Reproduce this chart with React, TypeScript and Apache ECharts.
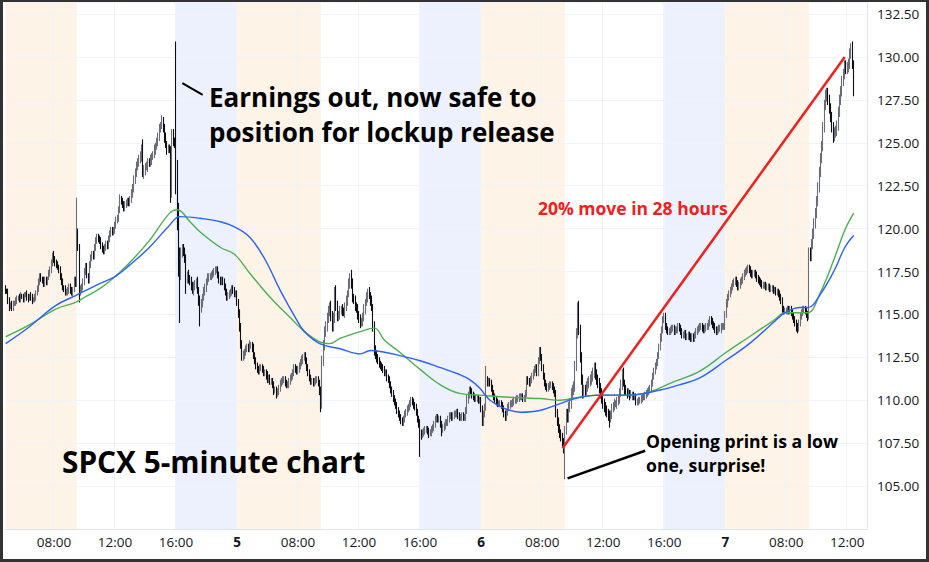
import React, { useEffect, useRef } from 'react';
import * as echarts from 'echarts';

// ---------- time axis (5-minute bars, 04:00-20:00 sessions) ----------
const DAYS = ['4', '5', '6', '7'];
const FIRST_BAR = '4 04:50';
const BAR_COUNT_ON_AXIS = 678;

// ---------- candle data (5-minute bars) ----------
const OPEN_FIRST = 116.5;

const closeDay4 = [
  116.4, 116.3, 115.8, 115.4, 115.6, 115.4, 115.6, 115.7, 115.8, 115.9,
  116.0, 115.9, 116.1, 116.0, 115.9, 116.1, 116.2, 116.0, 115.9, 116.1,
  116.0, 115.8, 115.9, 116.0, 116.2, 116.5, 116.9, 117.2, 117.1, 117.0,
  116.8, 117.0, 116.9, 117.1, 117.4, 117.6, 118.0, 118.4, 118.2, 118.0,
  117.9, 117.8, 117.6, 117.2, 116.9, 116.6, 116.5, 116.3, 116.3, 116.4,
  116.6, 116.4, 116.2, 116.5, 117.0, 116.8, 119.8, 118.9, 116.3, 116.5,
  116.6, 116.9, 117.5, 117.8, 117.3, 117.0, 117.9, 118.3, 118.5, 118.4,
  118.9, 119.3, 119.5, 119.4, 119.3, 119.0, 118.8, 118.7, 118.9, 119.1,
  119.0, 119.4, 119.7, 119.9, 119.8, 119.9, 120.2, 120.5, 120.6, 121.1,
  121.7, 121.6, 121.4, 121.2, 121.4, 121.5, 121.6, 121.5, 121.7, 122.0,
  122.4, 122.8, 123.3, 123.6, 123.9, 124.0, 124.2, 124.6, 123.2, 123.4,
  123.6, 123.6, 123.9, 123.8, 124.0, 124.2, 124.3, 124.6, 124.8, 125.0,
  125.4, 125.8, 126.0, 126.2, 125.9, 125.3, 124.9, 124.6, 124.7, 124.6,
  122.0, 125.6, 125.0, 124.9, 123.6, 120.3, 118.0, 117.5, 118.6, 118.8,
  118.7, 118.2, 117.0, 117.3, 117.1, 116.9, 116.7, 116.4, 116.6, 116.8,
  116.9, 116.4, 115.8, 115.3, 115.7, 116.0, 116.3, 116.6, 116.9, 117.1,
  117.2, 117.2, 117.3, 117.4, 117.5, 117.6, 117.6, 117.3, 117.0, 116.9,
  117.0, 116.9, 116.6, 116.3, 116.0, 116.1, 116.2, 116.3, 116.5, 116.4,
  116.2, 116.2,
];
const upWickDay4 = [
  2, 1, 2, 2, 1, 2, 2, 1, 2, 2,
  1, 2, 2, 1, 2, 2, 1, 2, 2, 1,
  2, 2, 1, 2, 2, 2, 2, 2, 2, 1,
  2, 2, 2, 1, 2, 2, 2, 2, 3, 2,
  2, 2, 1, 2, 2, 2, 1, 2, 2, 2,
  2, 2, 2, 1, 2, 2, 20, 2, 2, 2,
  2, 2, 2, 2, 2, 1, 2, 2, 2, 2,
  2, 2, 2, 2, 2, 2, 2, 2, 2, 2,
  2, 2, 2, 2, 2, 2, 2, 2, 2, 2,
  3, 2, 2, 2, 2, 2, 2, 2, 2, 3,
  2, 3, 2, 3, 2, 3, 3, 3, 6, 3,
  2, 3, 2, 2, 3, 2, 2, 3, 2, 3,
  2, 3, 2, 4, 3, 2, 3, 2, 2, 2,
  2, 2, 2, 3, 60, 4, 12, 9, 3, 3,
  3, 2, 3, 2, 3, 2, 3, 2, 3, 2,
  2, 3, 2, 3, 2, 2, 3, 2, 2, 3,
  2, 2, 2, 2, 2, 2, 2, 2, 2, 2,
  2, 2, 2, 2, 2, 2, 2, 2, 2, 2,
  2, 2,
];
const lowWickDay4 = [
  2, 1, 2, 2, 1, 2, 2, 1, 2, 2,
  1, 2, 2, 1, 2, 2, 1, 2, 2, 1,
  2, 2, 1, 2, 2, 1, 2, 2, 2, 2,
  2, 2, 2, 2, 1, 2, 2, 2, 2, 2,
  2, 2, 2, 2, 2, 2, 2, 2, 2, 2,
  2, 2, 1, 2, 2, 2, 2, 2, 6, 2,
  2, 2, 2, 2, 2, 2, 2, 2, 2, 2,
  2, 2, 2, 2, 2, 2, 2, 2, 2, 2,
  2, 2, 2, 2, 2, 2, 2, 2, 2, 2,
  2, 2, 2, 2, 2, 2, 2, 2, 2, 2,
  2, 3, 2, 3, 2, 3, 2, 3, 2, 3,
  3, 2, 3, 2, 2, 3, 2, 2, 3, 2,
  2, 3, 2, 2, 3, 3, 2, 3, 2, 2,
  5, 2, 2, 2, 16, 4, 8, 30, 5, 3,
  3, 2, 8, 2, 3, 2, 3, 2, 3, 2,
  3, 2, 3, 10, 2, 3, 2, 2, 3, 2,
  2, 2, 2, 2, 2, 2, 2, 2, 2, 2,
  2, 2, 2, 2, 2, 2, 2, 2, 2, 2,
  2, 2,
];

const closeDay5 = [
  115.7, 115.0, 114.3, 113.3, 112.5, 112.6, 112.8, 113.0, 113.1, 113.0,
  113.2, 113.2, 113.0, 112.6, 112.3, 112.0, 111.8, 111.7, 111.9, 111.9,
  111.8, 111.6, 111.6, 111.4, 111.2, 111.3, 111.1, 111.1, 110.9, 110.6,
  110.6, 110.4, 110.5, 110.7, 111.0, 111.1, 111.2, 111.2, 111.0, 110.9,
  110.9, 111.1, 111.3, 111.4, 111.6, 111.9, 111.8, 111.7, 111.8, 112.0,
  112.2, 112.3, 112.5, 112.6, 112.3, 111.9, 111.6, 111.3, 111.1, 111.1,
  111.0, 111.1, 111.2, 111.2, 111.0, 110.6, 109.8, 112.3, 113.2, 114.0,
  114.3, 114.8, 115.2, 115.5, 114.9, 114.3, 114.8, 116.4, 115.5, 114.9,
  115.0, 115.2, 115.3, 115.2, 115.1, 115.4, 115.8, 116.2, 116.8, 117.3,
  116.8, 116.0, 115.8, 115.5, 115.3, 115.0, 114.7, 114.5, 114.6, 114.8,
  115.3, 115.7, 116.0, 116.3, 116.1, 115.8, 115.4, 114.3, 112.9, 112.7,
  112.4, 112.3, 112.1, 112.0, 111.9, 111.8, 111.6, 111.6, 111.3, 111.2,
  110.9, 110.6, 110.4, 110.1, 109.9, 109.7, 109.4, 109.2, 109.0, 108.8,
  108.7, 108.9, 109.2, 109.3, 109.5, 109.6, 109.8, 110.0, 109.9, 109.7,
  109.6, 109.3, 108.9, 108.6, 108.1, 108.0, 108.1, 108.2, 108.3, 108.3,
  108.2, 108.1, 108.1, 108.3, 108.4, 108.6, 108.9, 109.0, 108.9, 108.9,
  108.6, 108.3, 108.4, 108.5, 108.7, 108.7, 108.9, 109.1, 109.1, 109.0,
  109.1, 109.2, 109.2, 109.3, 109.1, 109.0, 109.0, 109.1, 109.0, 109.0,
  109.4, 110.0, 110.3, 110.6, 110.5, 110.3, 110.2, 110.1, 110.1, 110.1,
  110.0, 110.0,
];
const upWickDay5 = [
  2, 2, 3, 2, 2, 3, 2, 2, 2, 2,
  3, 2, 2, 3, 2, 2, 2, 2, 2, 2,
  2, 2, 2, 2, 3, 2, 2, 2, 2, 2,
  2, 2, 2, 2, 2, 2, 2, 2, 2, 2,
  2, 2, 2, 2, 2, 2, 2, 2, 2, 2,
  2, 3, 2, 2, 2, 2, 2, 2, 2, 2,
  2, 2, 2, 2, 2, 2, 2, 3, 3, 3,
  3, 3, 3, 2, 3, 3, 3, 2, 3, 3,
  2, 3, 2, 3, 2, 3, 3, 2, 3, 1,
  3, 3, 2, 3, 2, 3, 2, 3, 2, 3,
  3, 2, 3, 2, 3, 2, 3, 2, 3, 3,
  2, 3, 2, 2, 2, 2, 2, 2, 2, 2,
  2, 2, 2, 2, 2, 2, 2, 2, 2, 2,
  2, 2, 2, 2, 2, 2, 2, 2, 2, 2,
  2, 2, 2, 2, 3, 2, 2, 2, 2, 2,
  2, 2, 2, 2, 2, 2, 2, 2, 2, 2,
  2, 2, 2, 2, 2, 2, 2, 2, 2, 2,
  2, 2, 2, 2, 2, 2, 2, 2, 2, 2,
  2, 3, 2, 2, 2, 2, 2, 2, 2, 2,
  2, 2,
];
const lowWickDay5 = [
  2, 2, 3, 3, 2, 2, 2, 2, 2, 2,
  2, 2, 2, 2, 2, 2, 2, 2, 2, 2,
  2, 2, 2, 2, 2, 2, 2, 2, 2, 3,
  2, 3, 2, 2, 2, 2, 2, 2, 2, 2,
  2, 2, 2, 2, 2, 2, 2, 2, 2, 2,
  2, 2, 2, 2, 2, 2, 2, 2, 2, 2,
  2, 2, 2, 2, 2, 3, 5, 3, 3, 3,
  3, 3, 3, 3, 3, 3, 3, 3, 3, 3,
  3, 3, 2, 3, 2, 3, 2, 3, 2, 3,
  3, 3, 2, 3, 2, 3, 2, 3, 2, 3,
  2, 3, 2, 3, 2, 3, 2, 3, 3, 3,
  2, 2, 2, 2, 2, 2, 2, 2, 2, 2,
  2, 2, 2, 2, 2, 2, 2, 2, 2, 2,
  2, 2, 2, 2, 2, 2, 2, 2, 2, 2,
  2, 2, 2, 2, 14, 3, 2, 2, 2, 2,
  2, 3, 2, 2, 2, 2, 2, 2, 2, 2,
  2, 4, 2, 2, 2, 2, 2, 2, 2, 2,
  2, 2, 2, 2, 2, 2, 2, 2, 2, 2,
  2, 2, 2, 2, 2, 2, 2, 2, 2, 2,
  2, 2,
];

const closeDay6 = [
  109.5, 108.7, 109.2, 109.6, 111.2, 111.0, 111.1, 111.0, 110.7, 110.4,
  110.2, 110.0, 109.9, 109.8, 109.8, 109.8, 109.7, 109.5, 109.2, 109.0,
  109.3, 109.6, 109.7, 109.8, 109.8, 109.9, 110.0, 110.0, 110.1, 110.1,
  110.2, 110.2, 110.2, 110.1, 110.1, 110.4, 111.2, 111.1, 111.0, 111.2,
  111.4, 111.6, 111.8, 111.9, 111.6, 112.3, 112.9, 112.5, 111.9, 111.4,
  111.0, 110.8, 110.7, 110.8, 110.9, 110.9, 110.8, 110.6, 110.4, 109.3,
  108.8, 108.4, 108.1, 107.9, 107.6, 107.2, 108.3, 109.2, 109.0, 109.6,
  109.8, 110.4, 110.6, 110.8, 112.0, 113.9, 115.5, 114.1, 112.5, 111.2,
  110.4, 110.6, 110.5, 110.8, 111.0, 111.1, 111.2, 111.4, 111.6, 111.9,
  111.5, 111.2, 111.0, 110.7, 110.4, 110.1, 109.8, 109.6, 109.4, 109.3,
  109.1, 109.0, 109.2, 109.5, 109.7, 109.8, 109.8, 109.9, 110.1, 110.4,
  110.9, 111.6, 111.0, 110.6, 110.5, 110.4, 110.4, 110.3, 110.3, 110.3,
  110.2, 110.2, 109.9, 109.9, 110.0, 110.0, 110.1, 110.2, 110.2, 110.3,
  110.4, 110.5, 110.6, 110.7, 111.0, 111.4, 111.7, 112.0, 112.2, 112.6,
  113.1, 113.6, 114.1, 114.7, 114.9, 114.3, 114.1, 114.0, 114.0, 114.1,
  114.2, 114.2, 114.0, 114.1, 114.1, 114.3, 114.2, 114.0, 113.8, 113.8,
  113.9, 113.7, 113.7, 113.8, 113.7, 113.6, 113.7, 113.6, 113.8, 114.0,
  114.1, 114.2, 114.3, 114.3, 114.2, 114.1, 114.2, 114.3, 114.3, 114.5,
  114.7, 114.6, 114.4, 114.3, 114.1, 114.0, 114.1, 114.2, 114.2, 114.3,
  114.3, 114.3,
];
const upWickDay6 = [
  2, 2, 2, 2, 8, 2, 2, 2, 2, 2,
  2, 2, 2, 2, 2, 2, 2, 2, 2, 2,
  2, 2, 2, 2, 2, 2, 2, 2, 2, 2,
  2, 2, 2, 2, 2, 2, 2, 2, 2, 2,
  2, 2, 2, 2, 2, 2, 2, 2, 2, 2,
  2, 2, 2, 2, 2, 2, 2, 2, 2, 2,
  2, 2, 2, 2, 2, 2, 2, 3, 3, 3,
  3, 3, 3, 3, 3, 3, 2, 3, 3, 3,
  3, 3, 3, 3, 3, 3, 3, 3, 3, 3,
  3, 3, 3, 3, 3, 3, 3, 3, 3, 3,
  2, 3, 2, 3, 2, 3, 2, 3, 2, 3,
  3, 2, 3, 2, 3, 2, 3, 2, 3, 2,
  2, 2, 2, 2, 2, 2, 2, 2, 2, 2,
  2, 2, 2, 2, 2, 2, 2, 2, 2, 2,
  2, 3, 2, 2, 2, 2, 2, 2, 2, 2,
  2, 2, 2, 2, 2, 2, 2, 2, 2, 2,
  2, 2, 2, 2, 2, 2, 2, 2, 2, 2,
  2, 2, 2, 2, 2, 2, 2, 2, 2, 2,
  2, 2, 2, 2, 2, 2, 2, 2, 2, 2,
  2, 2,
];
const lowWickDay6 = [
  2, 2, 2, 2, 2, 2, 2, 2, 2, 2,
  2, 2, 2, 2, 2, 2, 2, 2, 2, 2,
  2, 2, 2, 2, 2, 2, 2, 2, 2, 2,
  2, 2, 2, 2, 2, 2, 2, 2, 2, 2,
  2, 2, 2, 2, 2, 2, 2, 2, 2, 2,
  2, 2, 2, 2, 2, 2, 2, 2, 2, 3,
  3, 3, 3, 3, 3, 3, 18, 3, 3, 3,
  3, 3, 3, 3, 3, 3, 3, 3, 3, 3,
  3, 3, 3, 3, 3, 3, 3, 3, 3, 3,
  3, 3, 3, 3, 3, 3, 3, 3, 3, 3,
  3, 6, 3, 3, 2, 3, 2, 3, 2, 3,
  2, 3, 2, 3, 2, 3, 2, 3, 2, 3,
  2, 2, 2, 2, 2, 2, 2, 2, 2, 2,
  2, 2, 2, 2, 2, 2, 2, 2, 2, 2,
  2, 2, 2, 2, 2, 2, 2, 2, 2, 2,
  2, 2, 2, 2, 2, 2, 2, 2, 2, 2,
  2, 2, 2, 2, 2, 2, 2, 2, 2, 2,
  2, 2, 2, 2, 2, 2, 2, 2, 2, 2,
  2, 2, 2, 2, 2, 2, 2, 2, 2, 3,
  2, 2,
];

const closeDay7 = [
  115.0, 115.6, 116.0, 116.2, 116.4, 116.6, 116.8, 116.9, 117.0, 116.8,
  116.6, 116.7, 116.9, 117.0, 117.2, 117.4, 117.5, 117.6, 117.7, 117.6,
  117.4, 117.3, 117.4, 117.4, 117.3, 117.1, 117.0, 116.9, 116.8, 116.7,
  116.7, 116.7, 116.6, 116.6, 116.6, 116.5, 116.5, 116.5, 116.4, 116.4,
  116.3, 116.3, 116.2, 116.0, 115.8, 115.3, 115.2, 115.2, 115.2, 115.3,
  115.2, 115.3, 115.1, 114.9, 114.7, 114.5, 114.3, 114.2, 114.5, 114.9,
  115.1, 115.3, 115.3, 115.2, 115.0, 114.9, 118.6, 118.4, 119.1, 119.7,
  120.3, 120.9, 121.6, 122.4, 123.3, 124.1, 124.8, 125.9, 127.2, 127.7,
  127.9, 127.5, 127.0, 126.5, 125.9, 125.4, 125.6, 125.7, 126.0, 126.8,
  127.5, 128.0, 128.6, 129.0, 129.5, 129.3, 129.4, 129.6, 130.2, 130.5,
  129.6, 128.01,
];
const upWickDay7 = [
  2, 3, 2, 2, 2, 2, 2, 2, 2, 2,
  2, 2, 2, 2, 2, 2, 2, 2, 2, 2,
  2, 2, 2, 2, 2, 2, 2, 2, 2, 2,
  2, 2, 2, 2, 2, 2, 2, 2, 2, 2,
  2, 2, 2, 2, 2, 2, 2, 2, 2, 2,
  2, 2, 2, 2, 2, 2, 2, 2, 2, 2,
  2, 2, 2, 2, 2, 2, 3, 3, 3, 3,
  3, 3, 3, 3, 3, 3, 3, 3, 3, 4,
  3, 3, 3, 3, 3, 3, 3, 3, 3, 3,
  3, 3, 3, 3, 3, 3, 3, 3, 3, 3,
  4, 2,
];
const lowWickDay7 = [
  2, 2, 2, 2, 2, 2, 2, 2, 2, 2,
  2, 2, 2, 2, 2, 2, 2, 2, 2, 2,
  2, 2, 2, 2, 2, 2, 2, 2, 2, 2,
  2, 2, 2, 2, 2, 2, 2, 2, 2, 2,
  2, 2, 2, 2, 2, 2, 2, 2, 2, 2,
  2, 2, 2, 2, 2, 2, 3, 3, 2, 2,
  2, 2, 2, 2, 2, 3, 2, 3, 3, 3,
  3, 3, 3, 3, 3, 3, 3, 3, 3, 3,
  3, 3, 3, 3, 3, 4, 3, 3, 3, 3,
  3, 3, 3, 3, 3, 3, 3, 3, 3, 3,
  3, 3,
];

// ---------- moving averages (bar index, value) ----------
const fastMaIdx = [0, 19, 39, 55, 62, 74, 86, 98, 113, 129, 135, 145, 153, 169, 180, 192, 208, 224, 235, 247, 255, 263, 279, 290, 298, 310, 326, 342, 357, 373, 389, 420, 436, 452, 467, 491, 507, 523, 546, 566, 585, 605, 613, 625, 631, 641, 652, 660, 667];
const fastMaVal = [113.7, 114.4, 115.3, 115.7, 116.0, 116.5, 117.2, 118.05, 119.3, 120.9, 121.1, 120.4, 119.8, 118.9, 118.5, 117.4, 116.0, 114.8, 114.0, 113.4, 113.3, 113.6, 114.0, 114.2, 113.5, 112.8, 111.8, 110.9, 110.4, 110.3, 110.2, 110.1, 110.0, 110.2, 110.3, 110.3, 110.5, 111.0, 111.7, 112.75, 113.7, 114.7, 115.1, 115.1, 115.1, 116.3, 118.3, 119.9, 120.9];
const slowMaIdx = [0, 19, 39, 55, 74, 86, 98, 113, 129, 137, 153, 169, 180, 192, 204, 216, 228, 235, 247, 263, 279, 287, 298, 310, 326, 342, 357, 365, 373, 381, 393, 405, 420, 436, 448, 467, 491, 515, 530, 546, 566, 585, 605, 613, 625, 631, 641, 652, 660, 667];
const slowMaVal = [113.3, 114.3, 115.5, 116.1, 116.8, 117.2, 117.9, 118.9, 120.2, 120.7, 120.6, 120.4, 120.1, 119.5, 118.2, 116.4, 114.8, 114.0, 113.3, 113.0, 112.7, 112.9, 112.8, 112.6, 112.3, 111.9, 111.5, 111.2, 110.7, 110.0, 109.5, 109.3, 109.4, 109.8, 110.1, 110.3, 110.3, 110.6, 110.9, 111.3, 112.3, 113.3, 114.6, 115.1, 115.4, 115.4, 116.2, 117.6, 118.9, 119.6];

// ---------- annotations (bar index, price) ----------
const moveLineIdx = [438, 660];
const moveLineVal = [107.2, 130.0];
const openPointerIdx = [442, 503];
const openPointerVal = [105.45, 107.06];
const earningsTickIdx = [139, 155];
const earningsTickVal = [128.47, 127.79];

// ---------- y axis ----------
const Y_MIN = 102.5;
const Y_MAX = 133.2;
const Y_STEP = 2.5;

const FONT = '"Open Sans", "Noto Sans", sans-serif';

function pad(n: number) {
  return n < 10 ? '0' + n : '' + n;
}

function buildCategories() {
  const cats: string[] = [];
  let started = false;
  for (const d of DAYS) {
    for (let m = 4 * 60; m < 20 * 60; m += 5) {
      const c = `${d} ${pad(Math.floor(m / 60))}:${pad(m % 60)}`;
      if (c === FIRST_BAR) started = true;
      if (started) cats.push(c);
    }
  }
  return cats.slice(0, BAR_COUNT_ON_AXIS);
}

function buildOption() {
  const cats = buildCategories();
  const closes = [...closeDay4, ...closeDay5, ...closeDay6, ...closeDay7];
  const upW = [...upWickDay4, ...upWickDay5, ...upWickDay6, ...upWickDay7];
  const loW = [...lowWickDay4, ...lowWickDay5, ...lowWickDay6, ...lowWickDay7];
  let prev = OPEN_FIRST;
  const candles = closes.map((c, i) => {
    const o = prev;
    prev = c;
    const hi = Math.max(o, c) + (upW[i] ?? 2) / 10;
    const lo = Math.min(o, c) - (loW[i] ?? 2) / 10;
    return [o, c, +lo.toFixed(2), +hi.toFixed(2)];
  });
  const last = closes[closes.length - 1];

  const has = (c: string) => cats.indexOf(c) >= 0;
  const bands: any[] = [];
  const PRE = '#fdf4e7';
  const POST = '#ecf1fd';
  DAYS.forEach((d, k) => {
    const preStart = has(`${d} 04:00`) ? `${d} 04:00` : cats[0];
    if (has(`${d} 09:30`)) bands.push([{ xAxis: preStart, itemStyle: { color: PRE } }, { xAxis: `${d} 09:30` }]);
    const next = DAYS[k + 1];
    if (next && has(`${d} 16:00`) && has(`${next} 04:00`)) {
      bands.push([{ xAxis: `${d} 16:00`, itemStyle: { color: POST } }, { xAxis: `${next} 04:00` }]);
    }
  });

  const isMajor = (v: string) => {
    const t = v.split(' ')[1];
    return t === '04:00' || t === '08:00' || t === '12:00' || t === '16:00';
  };
  const pairs = (xs: number[], ys: number[]) => xs.map((x, i) => [x, ys[i]]);

  return {
    animation: false,
    backgroundColor: '#ffffff',
    textStyle: { fontFamily: FONT },
    grid: { left: 5, right: 62, top: 2, bottom: 33 },
    xAxis: {
      type: 'category',
      data: cats,
      boundaryGap: true,
      z: 2,
      axisLine: { show: true, lineStyle: { color: '#e0e3eb' } },
      axisTick: { show: false },
      axisLabel: {
        interval: (_i: number, v: string) => isMajor(v),
        formatter: (v: string) => {
          const [d, t] = v.split(' ');
          return t === '04:00' ? `{day|${d}}` : t;
        },
        color: '#131722',
        fontSize: 13.5,
        fontFamily: FONT,
        margin: 6,
        rich: { day: { fontWeight: 'bold', fontSize: 13.5, color: '#131722', fontFamily: FONT } },
      },
      splitLine: {
        show: true,
        interval: (_i: number, v: string) => isMajor(v),
        lineStyle: { color: '#f0f3fa', width: 1 },
      },
    },
    yAxis: {
      type: 'value',
      position: 'right',
      min: Y_MIN,
      max: Y_MAX,
      interval: Y_STEP,
      z: 2,
      axisLine: { show: true, lineStyle: { color: '#e0e3eb' } },
      axisTick: { show: false },
      axisLabel: {
        showMinLabel: false,
        showMaxLabel: false,
        formatter: (v: number) => v.toFixed(2),
        color: '#131722',
        fontSize: 13.5,
        fontFamily: FONT,
        margin: 10,
      },
      splitLine: { show: true, lineStyle: { color: '#f0f3fa', width: 1 } },
    },
    graphic: [
      { type: 'text', x: 209, y: 97, z: 10, style: { text: 'Earnings out, now safe to', fill: '#000', fontSize: 26, fontWeight: 'bold', fontFamily: FONT, verticalAlign: 'middle' } },
      { type: 'text', x: 209, y: 132, z: 10, style: { text: 'position for lockup release', fill: '#000', fontSize: 26, fontWeight: 'bold', fontFamily: FONT, verticalAlign: 'middle' } },
      { type: 'text', x: 62, y: 461.5, z: 10, style: { text: 'SPCX 5-minute chart', fill: '#000', fontSize: 29.8, fontWeight: 'bold', fontFamily: FONT, verticalAlign: 'middle' } },
      { type: 'text', x: 646, y: 440.5, z: 10, style: { text: 'Opening print is a low', fill: '#000', fontSize: 17.6, fontWeight: 'bold', fontFamily: FONT, verticalAlign: 'middle' } },
      { type: 'text', x: 646, y: 464.5, z: 10, style: { text: 'one, surprise!', fill: '#000', fontSize: 17.6, fontWeight: 'bold', fontFamily: FONT, verticalAlign: 'middle' } },
      { type: 'text', x: 538, y: 207.5, z: 10, style: { text: '20% move in 28 hours', fill: '#f0201e', fontSize: 17.5, fontWeight: 'bold', fontFamily: FONT, verticalAlign: 'middle' } },
    ],
    series: [
      {
        name: 'sessions',
        type: 'line',
        data: [],
        z: 1,
        silent: true,
        markArea: { silent: true, data: bands },
      },
      {
        name: 'SPCX',
        type: 'candlestick',
        data: candles,
        z: 3,
        large: false,
        barWidth: 1.2,
        itemStyle: {
          color: '#6b6e78',
          borderColor: '#6b6e78',
          color0: '#0e0f14',
          borderColor0: '#0e0f14',
          borderWidth: 1.1,
        },
        markLine: {
          silent: true,
          symbol: ['none', 'none'],
          lineStyle: { opacity: 0 },
          data: [{ yAxis: last }],
          label: {
            position: 'end',
            distance: 1,
            formatter: () => last.toFixed(2),
            backgroundColor: '#131722',
            color: '#ffffff',
            fontSize: 13.5,
            fontFamily: FONT,
            padding: [2, 10, 2, 9],
          },
        },
      },
      {
        name: 'fast',
        type: 'line',
        data: pairs(fastMaIdx, fastMaVal),
        z: 4,
        smooth: 0.4,
        showSymbol: false,
        silent: true,
        lineStyle: { color: '#4caf50', width: 1.4 },
      },
      {
        name: 'slow',
        type: 'line',
        data: pairs(slowMaIdx, slowMaVal),
        z: 4,
        smooth: 0.4,
        showSymbol: false,
        silent: true,
        lineStyle: { color: '#2962ff', width: 1.4 },
      },
      {
        name: 'move',
        type: 'line',
        data: pairs(moveLineIdx, moveLineVal),
        z: 5,
        showSymbol: false,
        silent: true,
        lineStyle: { color: '#f0201e', width: 2.5 },
      },
      {
        name: 'openPointer',
        type: 'line',
        data: pairs(openPointerIdx, openPointerVal),
        z: 5,
        showSymbol: false,
        silent: true,
        lineStyle: { color: '#000000', width: 2.5 },
      },
      {
        name: 'earningsTick',
        type: 'line',
        data: pairs(earningsTickIdx, earningsTickVal),
        z: 5,
        showSymbol: false,
        silent: true,
        lineStyle: { color: '#000000', width: 2 },
      },
    ],
  };
}

export default function App() {
  const ref = useRef<HTMLDivElement>(null);
  useEffect(() => {
    document.body.style.margin = '0';
    const chart = echarts.init(ref.current as HTMLDivElement, null, { renderer: 'svg' });
    chart.setOption(buildOption() as any);
    return () => chart.dispose();
  }, []);
  return (
    <div style={{ position: 'relative', width: 929, height: 562, background: '#fff', overflow: 'hidden' }}>
      <div ref={ref} style={{ width: 929, height: 562 }} />
      <div
        style={{
          position: 'absolute',
          left: 0,
          top: 0,
          width: 929,
          height: 562,
          boxSizing: 'border-box',
          borderStyle: 'solid',
          borderColor: '#333333',
          borderWidth: '2px 3px 3px 3px',
          pointerEvents: 'none',
        }}
      />
    </div>
  );
}
